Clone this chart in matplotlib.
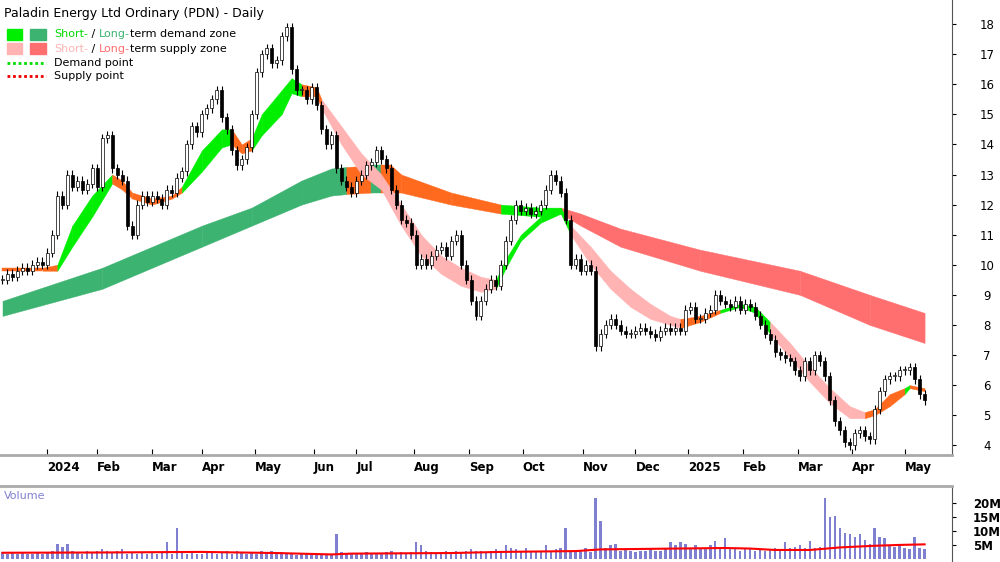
import matplotlib
matplotlib.use("Agg")
import matplotlib.pyplot as plt
from matplotlib.patches import Rectangle

closes = [9.5,9.7,9.6,9.8,9.9,9.8,10.0,10.1,10.0,10.4,
11.0,12.3,12.0,13.0,12.6,12.8,12.5,12.7,13.2,12.6,
14.2,14.3,13.2,13.0,12.8,11.3,11.0,12.0,12.3,12.1,
12.3,12.2,12.0,12.5,12.4,12.9,13.1,14.0,14.6,14.4,
15.0,15.2,15.5,15.8,14.9,14.5,13.8,13.3,13.5,13.9,
15.0,16.4,17.0,17.2,16.7,16.8,17.6,17.9,16.5,15.8,
15.8,15.5,15.9,15.3,14.5,14.0,14.3,13.2,12.8,12.6,
12.4,12.8,13.0,13.3,13.4,13.8,13.5,13.2,12.5,12.0,
11.5,11.4,11.0,10.0,10.2,10.0,10.3,10.5,10.6,10.3,
10.8,11.0,10.0,9.5,8.8,8.3,8.8,9.2,9.5,9.3,
10.0,10.8,11.5,12.0,11.8,11.9,11.7,11.8,12.0,12.5,
13.0,12.8,12.4,11.5,10.0,10.2,9.8,10.0,9.8,7.3,
7.7,8.0,8.2,8.0,7.8,7.7,7.7,7.8,7.9,7.8,
7.7,7.6,7.8,7.9,7.8,7.9,7.8,8.5,8.6,8.2,
8.2,8.4,8.5,9.0,8.8,8.7,8.6,8.8,8.5,8.7,
8.6,8.3,8.0,7.7,7.5,7.1,7.0,6.9,6.8,6.5,
6.3,6.8,6.5,7.0,6.8,6.3,5.5,4.8,4.5,4.1,
4.0,4.4,4.5,4.3,4.2,5.2,5.8,6.2,6.3,6.3,
6.5,6.5,6.6,6.2,5.7,5.5]

volume_m = [2.5,2,2.2,1.8,2.5,2,1.8,2.2,2,2.5,
3,5.5,4.5,5.5,3,2.5,2,3,2.5,3,
3.5,3,2.5,3,3.5,2,2.5,2,2.5,2,
2.5,2,2.5,6,2,11,2.5,2,2.5,2,
2,3,2.5,2,2.5,3,2,3,2.5,2,
2.5,2,3,2.5,3,2,2.5,2,2,1.5,
2,1.8,1.5,2,1.5,2,1.8,9,2.5,2,
2,1.8,2,2.5,2,2.2,2,2.5,3,2,
2.5,2,2.5,6,5,3,2.5,2,2.5,3,
2.5,3,2.5,3,3.5,3,3,2.5,3,3.5,
3,5,4,3.5,3,4,3,2.5,3,5,
3,3.5,4,11,3,2.5,3,4,2.5,22,
13.5,4,5,5.5,3,3.5,3,2.5,3,3,
3.5,3,3,4,6,5,6,5.5,4,5,
4,3.5,5,6.5,4,7.5,4,3.5,3,3.5,
4,3,3.5,3,3.5,4,3.5,6,4,4.5,
5,4,6.5,4,4.5,22,15,15.5,11,9.5,
9,8,9,7,5.5,11,8,7.5,5,4.5,
5,4,3.5,8,4,3.5]

vavg_x = [0,20,40,55,66,70,90,100,115,120,135,145,150,155,162,168,175,180,185]
vavg_y = [2.3,2.4,2.6,2.2,1.7,2.0,2.2,2.6,2.9,3.5,3.8,4.0,3.8,3.3,3.3,4.2,4.8,5.1,5.3]

# short-term zone (bar index, upper, lower, colour of following segment)
st_x  = [0,8,11,14,18,22,24,26,30,34,36,40,44,46,48,50,52,56,58,60,63,64,68,72,76,80,84,88,92,96,99,101,104,108,112,114,118,122,126,130,134,136,140,144,148,151,154,158,162,166,170,173,175,178,181,182,185]
st_hi = [9.9,9.9,10.0,11.3,12.3,13.0,12.8,12.4,12.2,12.3,12.6,13.8,14.5,14.5,14.0,14.2,15.0,15.8,16.2,16.0,15.9,15.5,14.6,13.7,13.0,12.0,11.0,10.3,9.9,9.6,9.5,10.2,11.0,11.6,11.9,11.3,10.6,9.8,9.2,8.7,8.3,8.2,8.3,8.5,8.7,8.6,8.1,7.4,6.6,5.9,5.3,5.1,5.2,5.7,5.9,6.0,5.9]
st_lo = [9.8,9.8,9.8,10.6,11.6,12.7,12.5,12.2,12.0,12.2,12.4,13.1,13.9,14.0,13.7,13.8,14.3,15.0,15.7,15.6,15.6,15.2,14.0,13.0,12.5,11.3,10.3,9.7,9.3,9.1,9.2,9.9,10.8,11.4,11.7,11.0,10.0,9.2,8.6,8.2,8.0,7.9,8.1,8.4,8.6,8.4,7.7,6.9,6.1,5.4,4.9,4.9,5.0,5.3,5.7,5.9,5.8]
st_col = ["o","o","g","g","g","o","o","o","o","o","g","g","g","o","o","g","g","g","g","o","o","p","p","p","p","p","p","p","p","p","g","g","g","g","g","p","p","p","p","p","p","o","o","g","g","g","p","p","p","p","p","o","o","o","g","o"]

lt_x  = [0,20,40,50,60,66,69,74,76,78,80,90,100,108,112,116,124,140,160,174,185]
lt_hi = [8.8,9.9,11.3,11.9,12.8,13.2,13.25,13.3,13.3,13.3,13.0,12.4,12.0,11.9,11.9,11.7,11.2,10.5,9.8,9.0,8.4]
lt_lo = [8.3,9.2,10.6,11.3,12.0,12.3,12.35,12.4,12.4,12.4,12.4,12.0,11.7,11.6,11.7,11.3,10.6,9.8,9.0,8.0,7.4]
lt_col = ["G","G","G","G","G","G","O","G","O","O","O","O","g","g","R","R","R","R","R","R"]

tick_labels = ["2024","Feb","Mar","Apr","May","Jun","Jul","Aug","Sep","Oct","Nov","Dec","2025","Feb","Mar","Apr","May"]
tick_pos = [9,19,30,40,50.6,62.4,71,82.6,93.6,104.4,116.4,127,137.6,148.6,159.6,170.4,181]
price_ticks = [4,5,6,7,8,9,10,11,12,13,14,15,16,17,18]

colors = {"g":"#00ee00","p":"#ffb3b3","o":"#ff6a1f","G":"#3cb371","R":"#ff6f6f","O":"#ff6a1f"}

fig = plt.figure(figsize=(10,5.62), dpi=100)
ax = fig.add_axes([0.0, 0.19, 0.952, 0.81])
axv = fig.add_axes([0.0, 0.0, 0.952, 0.133])
n = len(closes)
xlim = (-0.5, 190.5)

def band(x, hi, lo, cols):
    for k in range(len(x)-1):
        ax.fill_between([x[k], x[k+1]], [hi[k], hi[k+1]], [lo[k], lo[k+1]],
                        color=colors[cols[k]], lw=0.3, zorder=1)
band(lt_x, lt_hi, lt_lo, lt_col)
band(st_x, st_hi, st_lo, st_col)

for i, c in enumerate(closes):
    o = closes[i-1] if i > 0 else c
    hi, lo = max(o, c)+0.15, min(o, c)-0.15
    ax.vlines(i, lo, hi, color="black", lw=0.8, zorder=3)
    ax.add_patch(Rectangle((i-0.3, min(o, c)), 0.6, max(abs(c-o), 0.04),
                 facecolor="white" if c >= o else "black", edgecolor="black", lw=0.5, zorder=4))

ax.set_xlim(*xlim)
ax.set_ylim(3.67, 18.8)
ax.yaxis.tick_right()
ax.set_yticks(price_ticks)
ax.set_yticklabels([str(t) for t in price_ticks], fontsize=8.5)
ax.tick_params(axis="y", direction="out", length=3, pad=22, colors="black")
for lab in ax.get_yticklabels():
    lab.set_ha("center")
ax.set_xticks(tick_pos)
ax.set_xticklabels(tick_labels, fontsize=8.5, fontweight="bold", ha="left")
ax.tick_params(axis="x", length=4, direction="in", pad=4)
for s in ["top","left"]:
    ax.spines[s].set_visible(False)
ax.spines["right"].set_color("#555555")
ax.spines["bottom"].set_color("#aaaaaa"); ax.spines["bottom"].set_linewidth(2)

ax.text(0.004, 0.985, "Paladin Energy Ltd Ordinary (PDN) - Daily", transform=ax.transAxes,
        fontsize=9, va="top", ha="left")
leg_y = [0.925, 0.893, 0.862, 0.832]
ax.add_patch(Rectangle((0.007, leg_y[0]-0.012), 0.016, 0.024, transform=ax.transAxes, color=colors["g"]))
ax.add_patch(Rectangle((0.032, leg_y[0]-0.012), 0.016, 0.024, transform=ax.transAxes, color=colors["G"]))
ax.add_patch(Rectangle((0.007, leg_y[1]-0.012), 0.016, 0.024, transform=ax.transAxes, color=colors["p"]))
ax.add_patch(Rectangle((0.032, leg_y[1]-0.012), 0.016, 0.024, transform=ax.transAxes, color=colors["R"]))
ax.plot([0.007, 0.048], [leg_y[2]]*2, transform=ax.transAxes, color="#00dd00", ls=(0,(1,1)), lw=2)
ax.plot([0.007, 0.048], [leg_y[3]]*2, transform=ax.transAxes, color="#ee0000", ls=(0,(1,1)), lw=2)

def line(y, parts):
    x = 0.057
    for s, c in parts:
        t = ax.text(x, y, s, transform=ax.transAxes, fontsize=8, color=c, va="center", ha="left")
        fig.canvas.draw()
        bb = t.get_window_extent().transformed(ax.transAxes.inverted())
        x = bb.x1
line(leg_y[0], [("Short-", "#00dd00"), (" / ", "black"), ("Long-", "#3cb371"), ("term demand zone", "black")])
line(leg_y[1], [("Short-", "#ffb3b3"), (" / ", "black"), ("Long-", "#ff6f6f"), ("term supply zone", "black")])
line(leg_y[2], [("Demand point", "black")])
line(leg_y[3], [("Supply point", "black")])

axv.bar(range(n), volume_m, width=0.5, color="#8080d0", zorder=2)
axv.plot(vavg_x, vavg_y, color="red", lw=1.5, zorder=3)
axv.set_xlim(*xlim)
axv.set_ylim(-1, 25.7)
axv.yaxis.tick_right()
axv.set_yticks([5,10,15,20])
axv.set_yticklabels(["5M","10M","15M","20M"], fontsize=8.5, fontweight="bold")
axv.tick_params(axis="y", length=3, pad=12)
axv.set_xticks([])
for s in ["top","left","bottom"]:
    axv.spines[s].set_visible(False)
axv.spines["right"].set_color("#555555")
axv.text(0.004, 0.88, "Volume", transform=axv.transAxes, fontsize=8, color="#8080d0", va="center")
fig.add_artist(plt.Line2D([0, 0.952], [1-486/562]*2, color="#aaaaaa", lw=2))
fig.savefig("out.png", dpi=100)
